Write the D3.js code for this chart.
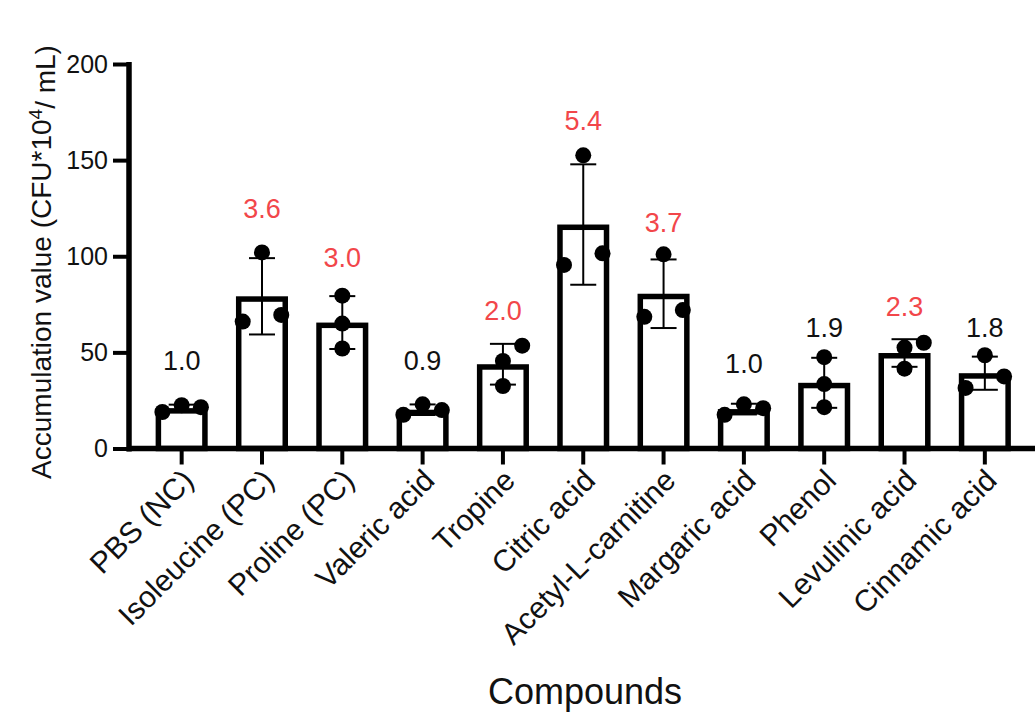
<!DOCTYPE html>
<html>
<head>
<meta charset="utf-8">
<script src="https://cdn.jsdelivr.net/npm/d3@7"></script>
<style>
  body { margin: 0; background: #fff; }
  text { font-family: Arial, "Liberation Sans", sans-serif; }
</style>
</head>
<body>
<script>
// Compounds on the x axis
const compounds = ["PBS (NC)", "Isoleucine (PC)", "Proline (PC)", "Valeric acid", "Tropine",
    "Citric acid", "Acetyl-L-carnitine", "Margaric acid", "Phenol", "Levulinic acid", "Cinnamic acid"];

// Replicate values (CFU*10^4 / mL), three per compound
const replicates = [
    [19, 22.5, 21.5],
    [66, 102, 69.5],
    [79.5, 65, 52],
    [17.5, 23, 20],
    [45.5, 32.5, 53.5],
    [95.5, 152.5, 101.5],
    [68.5, 101, 72],
    [17.5, 23, 21],
    [47.5, 33.5, 21.5],
    [52.5, 41.5, 55],
    [31.5, 48.5, 37.5]
];

// horizontal jitter slot of each replicate dot (-1 left, 0 centre, 1 right)
const dotSlots = [
    [-1, 0, 1], [-1, 0, 1], [0, 0, 0], [-1, 0, 1], [0, 0, 1], [-1, 0, 1],
    [-1, 0, 1], [-1, 0, 1], [0, 0, 0], [0, 0, 1], [-1, 0, 1]
];

// fold change annotations and the value height where each one sits
const foldLabels = ["1.0", "3.6", "3.0", "0.9", "2.0", "5.4", "3.7", "1.0", "1.9", "2.3", "1.8"];
const foldSignificant = [false, true, true, false, true, true, true, false, false, true, false];
const foldAt = [40.8, 119.7, 94.6, 40.8, 66.8, 165.8, 112.8, 39.1, 57.8, 69.1, 57.8];

const yTicks = [0, 50, 100, 150, 200];

const data = compounds.map((name, i) => ({
    name,
    points: replicates[i],
    slots: dotSlots[i],
    mean: d3.mean(replicates[i]),
    sd: d3.deviation(replicates[i]),
    label: foldLabels[i],
    sig: foldSignificant[i],
    labelAt: foldAt[i]
}));

const W = 1035, H = 714;
const svg = d3.select("body").append("svg")
    .attr("width", W)
    .attr("height", H);

const x = d3.scaleBand()
    .domain(compounds)
    .range([141.5, 1025])
    .paddingInner(0.352)
    .paddingOuter(0.176);

const y = d3.scaleLinear()
    .domain([0, 200])
    .range([448.5, 64]);

const axisX = 129;   // y axis position
const sw = 5.5;      // bar outline width
const black = "#000";

// bars (outline sits inside the bar so the outer edge marks the mean)
svg.append("g").selectAll("rect")
    .data(data)
    .enter()
    .append("rect")
    .attr("x", d => x(d.name) + sw / 2)
    .attr("y", d => y(d.mean) + sw / 2)
    .attr("width", x.bandwidth() - sw)
    .attr("height", d => y(0) - y(d.mean) - sw / 2)
    .attr("fill", "#fff")
    .attr("stroke", black)
    .attr("stroke-width", sw);

// error bars: mean ± SD
const capHalf = 13;
const eb = svg.append("g").selectAll("g")
    .data(data)
    .enter()
    .append("g")
    .attr("stroke", black)
    .attr("stroke-width", 2);

eb.append("line")
    .attr("x1", d => x(d.name) + x.bandwidth() / 2)
    .attr("x2", d => x(d.name) + x.bandwidth() / 2)
    .attr("y1", d => y(d.mean - d.sd))
    .attr("y2", d => y(d.mean + d.sd));

eb.append("line")
    .attr("x1", d => x(d.name) + x.bandwidth() / 2 - capHalf)
    .attr("x2", d => x(d.name) + x.bandwidth() / 2 + capHalf)
    .attr("y1", d => y(d.mean + d.sd))
    .attr("y2", d => y(d.mean + d.sd));

eb.append("line")
    .attr("x1", d => x(d.name) + x.bandwidth() / 2 - capHalf)
    .attr("x2", d => x(d.name) + x.bandwidth() / 2 + capHalf)
    .attr("y1", d => y(d.mean - d.sd))
    .attr("y2", d => y(d.mean - d.sd));

// replicate dots
const jitter = x.bandwidth() * 0.37;
const dots = data.flatMap(d => d.points.map((v, j) => ({ name: d.name, v, slot: d.slots[j] })));

svg.append("g").selectAll("circle")
    .data(dots)
    .enter()
    .append("circle")
    .attr("cx", d => x(d.name) + x.bandwidth() / 2 + d.slot * jitter)
    .attr("cy", d => y(d.v))
    .attr("r", 8)
    .attr("fill", black);

// fold change labels
svg.append("g").selectAll("text")
    .data(data)
    .enter()
    .append("text")
    .attr("x", d => x(d.name) + x.bandwidth() / 2)
    .attr("y", d => y(d.labelAt))
    .attr("text-anchor", "middle")
    .style("font-size", "27px")
    .style("fill", d => d.sig ? "#f2464a" : "#111")
    .text(d => d.label);

// y axis
const gy = svg.append("g")
    .attr("transform", `translate(${axisX},0)`)
    .call(d3.axisLeft(y).tickValues(yTicks).tickSize(16).tickSizeOuter(0).tickPadding(5));
gy.select(".domain").remove();
gy.selectAll(".tick line").attr("stroke", black).attr("stroke-width", 4);
gy.selectAll(".tick text").style("font-size", "25px").attr("fill", "#111").attr("font-family", null);

svg.append("line")
    .attr("x1", axisX).attr("x2", axisX)
    .attr("y1", y(200) - 2).attr("y2", y(0) + 3)
    .attr("stroke", black)
    .attr("stroke-width", sw);

// x axis
const gx = svg.append("g")
    .attr("transform", `translate(0,${y(0)})`)
    .call(d3.axisBottom(x).tickSize(16).tickSizeOuter(0));
gx.select(".domain").remove();
gx.selectAll(".tick line").attr("stroke", black).attr("stroke-width", 4);
gx.selectAll(".tick text")
    .attr("font-family", null)
    .style("font-size", "30px")
    .attr("fill", "#111")
    .attr("text-anchor", "end")
    .attr("x", 0)
    .attr("y", 0)
    .attr("dy", "0.65em")
    .attr("transform", "translate(0,20) rotate(-45)");

svg.append("line")
    .attr("x1", axisX - 2).attr("x2", W)
    .attr("y1", y(0)).attr("y2", y(0))
    .attr("stroke", black)
    .attr("stroke-width", sw);

// axis titles
svg.append("text")
    .attr("x", 585)
    .attr("y", 704)
    .attr("text-anchor", "middle")
    .style("font-size", "36px")
    .attr("fill", "#111")
    .text("Compounds");

const yTitle = svg.append("text")
    .attr("transform", "translate(51,262) rotate(-90)")
    .attr("text-anchor", "middle")
    .style("font-size", "28px")
    .attr("fill", "#111");
yTitle.append("tspan").text("Accumulation value (CFU*10");
yTitle.append("tspan").attr("dy", "-0.45em").style("font-size", "19px").text("4");
yTitle.append("tspan").attr("dy", "0.45em").text("/ mL)");
</script>
</body>
</html>
